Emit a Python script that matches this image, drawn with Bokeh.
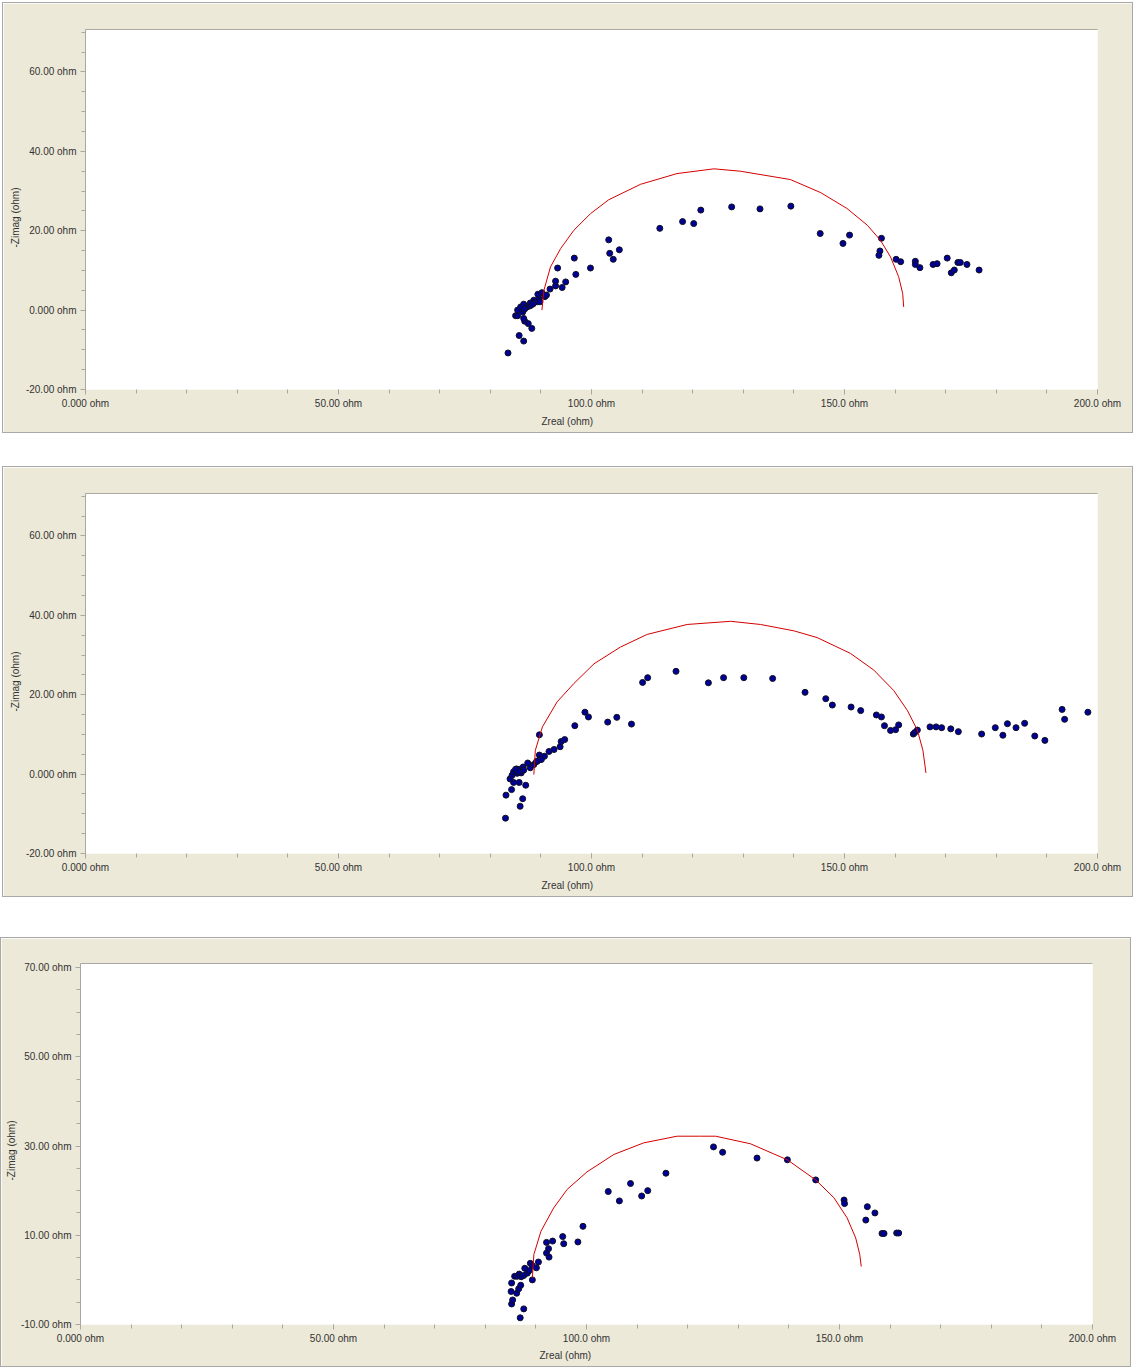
from bokeh.plotting import figure
from bokeh.models import Range1d, FixedTicker, LinearAxis, Spacer, Title
from bokeh.layouts import column, row
from bokeh.embed import file_html
from bokeh.resources import INLINE

# ---------------- data ----------------
x_ticks = [0, 50, 100, 150, 200]
x_tick_labels = ["0.000 ohm", "50.00 ohm", "100.0 ohm", "150.0 ohm", "200.0 ohm"]
y_ticks_ab = [-20, 0, 20, 40, 60]
y_tick_labels_ab = ["-20.00 ohm", "0.000 ohm", "20.00 ohm", "40.00 ohm", "60.00 ohm"]
y_ticks_c = [-10, 10, 30, 50, 70]
y_tick_labels_c = ["-10.00 ohm", "10.00 ohm", "30.00 ohm", "50.00 ohm", "70.00 ohm"]
x_title = "Zreal (ohm)"
y_title = "-Zimag (ohm)"

# Panel 1 measured points
zreal_1 = [83.5, 86.6, 85.7, 88.2, 87.5, 86.8, 86.6, 85.0, 85.4, 86.4, 85.4, 86.0, 86.6, 87.3,
           87.9, 87.9, 88.6, 89.3, 89.6, 89.8, 89.4, 90.2, 90.8, 91.1, 91.8, 92.9, 92.9, 94.2,
           94.9, 93.3, 96.9, 96.6, 99.8, 103.4, 103.6, 104.3, 105.5, 113.5, 118.0, 120.2, 121.6,
           127.7, 133.3, 139.4, 145.2, 149.7, 151.0, 157.3, 157.0, 156.8, 160.2, 161.1, 164.0,
           164.0, 164.9, 167.5, 168.3, 170.3, 171.1, 171.7, 172.4, 172.9, 174.2, 176.6,
           86.8, 88.8, 88.4]
zimag_1 = [-10.8, -7.8, -6.4, -4.6, -3.4, -2.8, -2.1, -1.4, -1.4, -0.5, 0.0, 0.8, 1.5, 0.8,
           1.1, 1.8, 2.5, 2.1, 2.9, 2.1, 4.0, 4.4, 3.4, 3.8, 5.3, 6.1, 7.3, 5.7,
           7.1, 10.6, 9.0, 13.1, 10.6, 17.7, 14.3, 12.8, 15.2, 20.6, 22.3, 21.8, 25.2,
           26.0, 25.5, 26.2, 19.3, 16.8, 18.9, 18.1, 14.9, 13.8, 12.8, 12.2, 12.3,
           11.5, 10.7, 11.5, 11.7, 13.1, 9.4, 10.1, 12.0, 12.0, 11.5, 10.1,
           0.3, 2.0, 1.5]
fit_real_1 = [90.2, 90.6, 91.9, 93.9, 96.5, 99.8, 103.4, 109.7, 116.9, 124.2, 129.4, 139.3,
              145.3, 150.5, 154.5, 157.1, 159.1, 160.7, 161.5, 161.7]
fit_imag_1 = [0.0, 5.0, 10.9, 15.5, 20.1, 24.3, 27.8, 31.7, 34.4, 35.6, 35.0, 32.9,
              29.6, 25.6, 21.4, 17.6, 13.4, 8.4, 4.2, 0.8]

# Panel 2 measured points
zreal_2 = [83.0, 85.9, 86.4, 83.1, 84.2, 84.6, 85.7, 87.0, 83.9, 84.3, 84.6, 85.2, 85.8, 86.5,
           85.3, 86.1, 86.6, 87.4, 87.9, 88.6, 89.1, 89.7, 89.9, 90.7, 89.7, 91.6, 92.6, 93.8,
           94.0, 94.7, 96.7, 98.7, 99.4, 103.2, 105.0, 107.9, 110.1, 111.1, 116.7, 123.1,
           126.1, 130.1, 135.8, 142.2, 146.3, 147.6, 151.3, 153.2, 156.3, 157.3, 157.9, 159.1,
           160.1, 160.7, 163.6, 163.9, 164.4, 166.9, 168.1, 169.2, 171.0, 172.5, 177.1, 179.8,
           181.3, 182.2, 183.9, 185.6, 187.6, 189.6, 193.0, 193.5, 198.1,
           85.0, 85.6, 89.3, 90.1]
zimag_2 = [-11.1, -8.1, -6.2, -5.3, -3.9, -2.1, -2.1, -2.8, -1.2, -0.3, 0.6, 1.3, 1.2, 1.8,
           0.2, 0.3, 1.0, 2.8, 1.6, 2.4, 3.1, 4.8, 3.7, 4.5, 9.9, 5.7, 6.2, 6.9,
           8.2, 8.7, 12.2, 15.6, 14.4, 13.1, 14.3, 12.6, 23.1, 24.3, 25.9, 23.0,
           24.3, 24.3, 24.1, 20.6, 19.0, 17.4, 16.9, 16.0, 14.9, 14.4, 12.2, 11.0,
           11.2, 12.4, 10.1, 10.5, 11.1, 11.9, 11.9, 11.7, 11.4, 10.7, 10.1, 11.7,
           9.8, 12.7, 11.7, 12.8, 9.6, 8.5, 16.3, 13.8, 15.6,
           1.2, 0.6, 3.3, 3.7]
fit_real_2 = [88.6, 88.9, 90.3, 93.2, 96.5, 100.5, 105.7, 111.0, 118.9, 127.5, 133.4, 140.0,
              144.6, 151.2, 155.8, 159.7, 162.4, 164.4, 165.5, 166.1]
fit_imag_2 = [-0.1, 6.0, 11.9, 18.2, 22.8, 27.8, 32.0, 35.2, 37.7, 38.5, 37.7, 36.1,
              34.4, 30.4, 26.2, 21.1, 16.1, 11.1, 6.0, 0.3]

# Panel 3 measured points
zreal_3 = [86.9, 87.6, 85.2, 85.4, 85.1, 86.2, 86.6, 87.0, 85.2, 89.3, 85.8, 86.3, 86.7, 87.1,
           87.6, 87.8, 88.3, 88.7, 88.9, 89.3, 90.1, 90.5, 92.1, 93.3, 92.5, 92.1, 92.6, 95.3,
           95.5, 98.3, 99.3, 104.3, 106.5, 108.7, 110.9, 112.1, 115.7, 125.1, 126.9, 133.7,
           139.7, 145.3, 150.9, 151.0, 155.5, 157.0, 155.2, 158.4, 158.8, 161.3, 161.7]
zimag_3 = [-8.5, -6.5, -5.4, -4.5, -2.6, -3.0, -2.0, -1.2, -0.7, 0.0, 0.8, 0.8, 1.3, 0.7,
           1.0, 2.6, 1.5, 2.1, 3.7, 3.2, 2.7, 4.0, 8.4, 8.7, 7.0, 6.0, 5.1, 9.7,
           8.1, 8.5, 12.0, 19.8, 17.7, 21.6, 18.8, 20.0, 23.9, 29.8, 28.6, 27.3,
           26.9, 22.4, 17.9, 17.1, 16.4, 15.0, 13.4, 10.4, 10.4, 10.5, 10.5]
fit_real_3 = [89.3, 89.6, 91.0, 93.5, 96.2, 100.1, 105.4, 111.3, 117.9, 122.5, 125.5, 132.4,
              139.7, 145.3, 148.9, 151.5, 153.2, 154.0, 154.3]
fit_imag_3 = [0.4, 5.7, 10.9, 16.1, 20.3, 24.2, 28.1, 30.7, 32.2, 32.2, 32.2, 30.5,
              26.9, 22.4, 18.4, 13.9, 9.4, 5.7, 3.0]

# ---------------- style ----------------
BEIGE = "#ECE9D8"
GRAY = "#A9A79F"
BOX = "#A8A8A8"
TXT = "#333333"
FONT = "Liberation Sans"
FS = "10px"


def minor_list(lo, hi, step):
    out = []
    v = lo
    while v <= hi + 1e-9:
        out.append(round(v, 6))
        v += step
    return out


def panel(zr, zi, fr, fi, y_lo, y_hi, y_ticks, y_labels, W, H, bl, bt, fw, fh,
          xt_off, yt_off, xt_stand, yt_stand):
    br = W - bl - fw
    bb = H - bt - fh
    p = figure(width=W, height=H, output_backend="svg",
               toolbar_location=None, x_range=Range1d(0, 200), y_range=Range1d(y_lo, y_hi),
               min_border_left=bl, min_border_right=br, min_border_top=bt,
               min_border_bottom=bb)
    p.styles = {"border": "1px solid " + BOX}
    p.background_fill_color = "white"
    p.border_fill_color = BEIGE
    p.outline_line_color = None
    p.xgrid.visible = False
    p.ygrid.visible = False

    p.xaxis.ticker = FixedTicker(ticks=x_ticks, minor_ticks=minor_list(0, 200, 10))
    p.xaxis.major_label_overrides = {t: l for t, l in zip(x_ticks, x_tick_labels)}
    p.yaxis.ticker = FixedTicker(ticks=y_ticks, minor_ticks=minor_list(y_ticks[0], y_hi, 5))
    p.yaxis.major_label_overrides = {t: l for t, l in zip(y_ticks, y_labels)}
    for ax in (p.xaxis[0], p.yaxis[0]):
        ax.major_tick_in = 0
        ax.major_tick_out = 5
        ax.minor_tick_in = 0
        ax.minor_tick_out = 4
        ax.major_tick_line_color = GRAY
        ax.minor_tick_line_color = GRAY
        ax.major_label_text_font = FONT
        ax.major_label_text_font_size = FS
        ax.major_label_text_color = TXT
        ax.major_label_standoff = 4
    p.xaxis.axis_line_color = None
    p.yaxis.axis_line_color = GRAY
    p.xaxis.major_label_standoff = 3

    top = LinearAxis(ticker=FixedTicker(ticks=[]), axis_line_color=GRAY,
                     major_tick_line_color=None, minor_tick_line_color=None,
                     major_label_text_font_size="0px")
    p.add_layout(top, "above")

    p.scatter(zr, zi, size=6, fill_color="#000098", line_color="#101020", line_width=1)
    p.line(fr, fi, line_color="#D40000", line_width=1)

    p.add_layout(Title(text=x_title, align="left", offset=xt_off, standoff=xt_stand,
                       text_font=FONT, text_font_size=FS, text_font_style="normal",
                       text_color=TXT), "below")
    p.add_layout(Title(text=y_title, align="left", offset=yt_off, standoff=yt_stand,
                       text_font=FONT, text_font_size=FS, text_font_style="normal",
                       text_color=TXT), "left")
    return p


# panel 1: box x 2..1133, y 2..433 ; frame x 85..1097, y 29..389
p1 = panel(zreal_1, zimag_1, fit_real_1, fit_imag_1, -20, 70.7, y_ticks_ab, y_tick_labels_ab,
           1131, 431, 82, 26, 1012, 360, 456, 142, 5, 4)
# panel 2: box x 2..1133, y 466..897 ; frame y 493..853
p2 = panel(zreal_2, zimag_2, fit_real_2, fit_imag_2, -20, 70.7, y_ticks_ab, y_tick_labels_ab,
           1131, 431, 82, 26, 1012, 360, 456, 142, 5, 4)
# panel 3: box x 0..1131, y 937..1366 ; frame x 80..1092, y 963..1324
p3 = panel(zreal_3, zimag_3, fit_real_3, fit_imag_3, -10, 70.9, y_ticks_c, y_tick_labels_c,
           1131, 430, 79, 25, 1012, 361, 459, 144, 3, 1)

layout = column(
    Spacer(height=2),
    row(Spacer(width=2), p1),
    Spacer(height=33),
    row(Spacer(width=2), p2),
    Spacer(height=40),
    p3,
)

open("out.html", "w").write(file_html(layout, INLINE))
